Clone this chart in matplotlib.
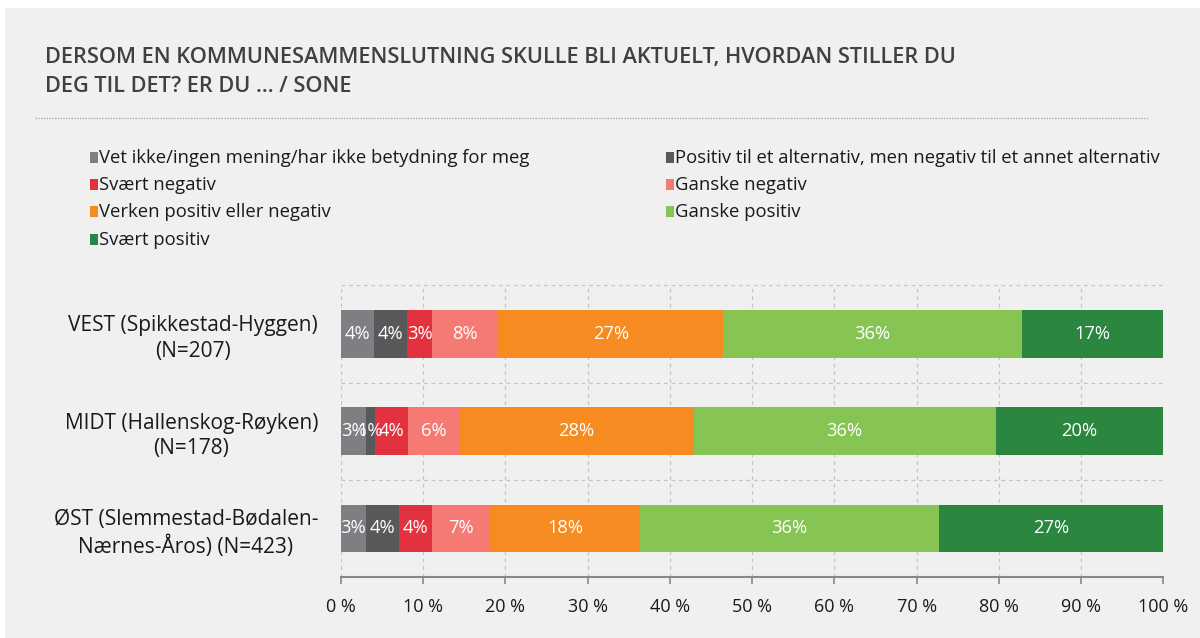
import matplotlib
matplotlib.use("Agg")
import matplotlib.pyplot as plt
from matplotlib.patches import Rectangle
from matplotlib.lines import Line2D
import numpy as np

plt.rcParams['font.family'] = ['Open Sans', 'DejaVu Sans']

title_lines = ["DERSOM EN KOMMUNESAMMENSLUTNING SKULLE BLI AKTUELT, HVORDAN STILLER DU",
               "DEG TIL DET? ER DU … / SONE"]
categories = ["VEST (Spikkestad-Hyggen)\n(N=207)",
              "MIDT (Hallenskog-Røyken)\n(N=178)",
              "ØST (Slemmestad-Bødalen-\nNærnes-Åros) (N=423)"]
series = ["Vet ikke/ingen mening/har ikke betydning for meg",
          "Positiv til et alternativ, men negativ til et annet alternativ",
          "Svært negativ",
          "Ganske negativ",
          "Verken positiv eller negativ",
          "Ganske positiv",
          "Svært positiv"]
colors = ["#7f7f83", "#58595b", "#e2323f", "#f47a73", "#f68b22", "#86c454", "#2b8640"]
values = {
    "VEST": [4.05, 4.0, 3.0, 8.1, 27.3, 36.4, 17.15],
    "MIDT": [3.1, 1.0, 4.1, 6.1, 28.6, 36.7, 20.4],
    "OST":  [3.0, 4.05, 4.0, 7.1, 18.2, 36.4, 27.25],
}
xticks = [0, 10, 20, 30, 40, 50, 60, 70, 80, 90, 100]

W, H = 1200, 638
fig = plt.figure(figsize=(12, 6.38), dpi=100, facecolor="white")
# gray panel
fig.patches.append(Rectangle((5 / W, 0), 1 - 5 / W, 1 - 8 / H, transform=fig.transFigure,
                             facecolor="#f0f0f0", edgecolor="none", zorder=-10))

for i, line in enumerate(title_lines):
    fig.text(45 / W, 1 - (57 + 30 * i) / H, line, fontsize=15.7, fontweight="semibold",
             color="#404040", va="center", ha="left")
fig.lines.append(Line2D([35 / W, 1148 / W], [1 - 118 / H, 1 - 118 / H], transform=fig.transFigure,
                        color="#b0b0b0", linestyle=(0, (1, 1)), linewidth=1))

# legend (row-wise, two columns)
col_x = [90, 666]
row_y = [158, 185, 212, 240]
for i, (name, c) in enumerate(zip(series, colors)):
    cx = col_x[i % 2]
    ry = row_y[i // 2]
    fig.patches.append(Rectangle((cx / W, 1 - (ry + 5) / H), 8 / W, 11 / H,
                                 transform=fig.transFigure, facecolor=c, edgecolor="none"))
    fig.text((cx + 9) / W, 1 - ry / H, name, fontsize=13.3, color="#1a1a1a",
             va="center", ha="left")

ax = fig.add_axes([341 / W, 1 - 577 / H, (1163.3 - 341) / W, (577 - 285.3) / H])
ax.set_facecolor("none")

keys = list(values.keys())
ypos = np.arange(len(categories))
left = np.zeros(len(categories))
for j, (name, c) in enumerate(zip(series, colors)):
    vals = np.array([values[k][j] for k in keys])
    ax.barh(ypos, vals, left=left, height=0.49, color=c, edgecolor="none", zorder=3)
    for y, v, l in zip(ypos, vals, left):
        ax.text(l + v / 2, y, f"{int(v + 1e-9)}%", ha="center", va="center",
                color="white", fontsize=13.2, zorder=4)
    left += vals

ax.set_xlim(0, 100)
ax.set_ylim(len(categories) - 0.5, -0.5)
ax.set_yticks(ypos)
ax.set_yticklabels(categories, fontsize=15, color="#1a1a1a", ha="right",
                   multialignment="center", linespacing=1.3)
ax.tick_params(axis="y", length=0, pad=16.5)
ax.set_xticks(xticks)
ax.set_xticklabels([f"{t} %" for t in xticks], fontsize=13, color="#1a1a1a")
ax.tick_params(axis="x", length=5, color="#888888", width=1.2, pad=10)

for x in xticks:
    ax.axvline(x, color="#c4c4c4", linestyle=(0, (3, 3)), linewidth=0.9, zorder=1)
for y in [-0.5, 0.5, 1.5]:
    ax.axhline(y, color="#c4c4c4", linestyle=(0, (3, 3)), linewidth=0.9, zorder=1)

for s in ["top", "right", "left"]:
    ax.spines[s].set_visible(False)
ax.spines["bottom"].set_color("#888888")
ax.spines["bottom"].set_linewidth(1.5)

fig.savefig("out.png", dpi=100, facecolor="white")
